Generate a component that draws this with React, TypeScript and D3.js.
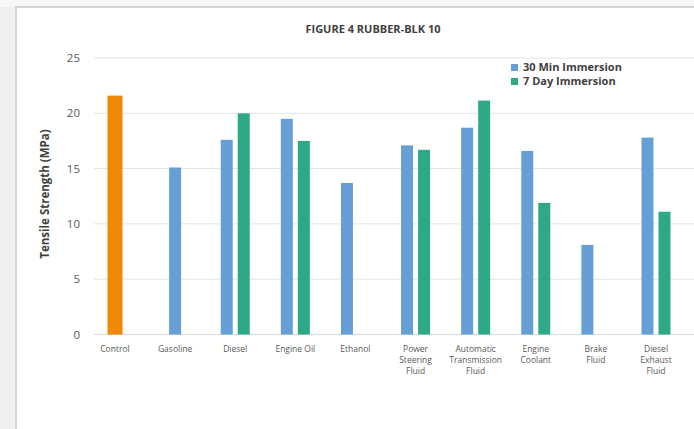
import React from "react";
import * as d3 from "d3";

const categories = [
  ["Control"],
  ["Gasoline"],
  ["Diesel"],
  ["Engine Oil"],
  ["Ethanol"],
  ["Power", "Steering", "Fluid"],
  ["Automatic", "Transmission", "Fluid"],
  ["Engine", "Coolant"],
  ["Brake", "Fluid"],
  ["Diesel", "Exhaust", "Fluid"],
];
const controlValues: (number | null)[] = [21.6, null, null, null, null, null, null, null, null, null];
const min30Values: (number | null)[] = [null, 15.1, 17.6, 19.5, 13.7, 17.1, 18.7, 16.6, 8.1, 17.8];
const day7Values: (number | null)[] = [null, null, 20.0, 17.5, null, 16.7, 21.15, 11.9, null, 11.1];
const centeredSingles = [true, true, false, false, false, false, false, false, false, false];
const yTicks = [0, 5, 10, 15, 20, 25];
const title = "FIGURE 4 RUBBER-BLK 10";
const yLabel = "Tensile Strength (MPa)";
const legendLabels = ["30 Min Immersion", "7 Day Immersion"];

const W = 694;
const H = 429;
const FONT = "'Open Sans', 'Noto Sans', sans-serif";
const BLUE = "#669fd6";
const GREEN = "#2da987";
const ORANGE = "#f18803";
const TEXT = "#595959";

export default function App() {
  const y = d3.scaleLinear().domain([0, 25]).range([334.5, 58]);
  const x = d3
    .scalePoint<number>()
    .domain(categories.map((_, i) => i))
    .range([115, 656]);
  const bw = 12;
  const gap = 5;

  const bars: React.ReactNode[] = [];
  categories.forEach((_, i) => {
    const c = x(i)!;
    if (controlValues[i] != null) {
      const v = controlValues[i] as number;
      bars.push(
        <rect key={`c${i}`} x={c - 7.5} width={15} y={y(v)} height={y(0) - y(v)} fill={ORANGE} />
      );
    }
    const a = min30Values[i];
    const b = day7Values[i];
    if (a != null) {
      const left = b == null && centeredSingles[i] ? c - bw / 2 : c - gap / 2 - bw;
      bars.push(
        <rect key={`a${i}`} x={left} width={bw} y={y(a)} height={y(0) - y(a)} fill={BLUE} />
      );
    }
    if (b != null) {
      bars.push(
        <rect key={`b${i}`} x={c + gap / 2} width={bw} y={y(b)} height={y(0) - y(b)} fill={GREEN} />
      );
    }
  });

  return (
    <svg
      width={W}
      height={H}
      style={{ position: "absolute", left: 0, top: 0, display: "block" }}
      fontFamily={FONT}
    >
      <rect x={0} y={0} width={W} height={H} fill="#f7f7f7" />
      <rect x={0} y={7} width={16} height={H} fill="#efefef" />
      <rect x={16} y={7} width={W + 10} height={H + 10} fill="#ffffff" stroke="#d6d6d6" strokeWidth={2} />

      <text x={373} y={33} textAnchor="middle" fontSize={11} fontWeight="bold" fill="#404040">
        {title}
      </text>

      {yTicks.map((t) => (
        <g key={t}>
          <line x1={94} x2={W} y1={y(t)} y2={y(t)} stroke={t === 0 ? "#d9d9d9" : "#e3e3e3"} strokeWidth={1} />
          <text x={80} y={y(t)} dy="0.35em" textAnchor="end" fontSize={11.5} fill={TEXT}>
            {t}
          </text>
        </g>
      ))}

      <text
        transform={`translate(49,194) rotate(-90)`}
        textAnchor="middle"
        fontSize={11.5}
        fontWeight="bold"
        fill="#404040"
      >
        {yLabel}
      </text>

      {bars}

      {categories.map((lines, i) => (
        <text key={i} x={x(i)!} y={352} textAnchor="middle" fontSize={8.5} fill={TEXT}>
          {lines.map((l, j) => (
            <tspan key={j} x={x(i)!} dy={j === 0 ? 0 : 10.8}>
              {l}
            </tspan>
          ))}
        </text>
      ))}

      {legendLabels.map((l, i) => (
        <g key={l} transform={`translate(511,${64 + i * 14})`}>
          <rect x={0} y={0} width={7} height={7} fill={i === 0 ? BLUE : GREEN} />
          <text x={12} y={3.5} dy="0.35em" fontSize={11} fontWeight="bold" fill="#404040">
            {l}
          </text>
        </g>
      ))}
    </svg>
  );
}
